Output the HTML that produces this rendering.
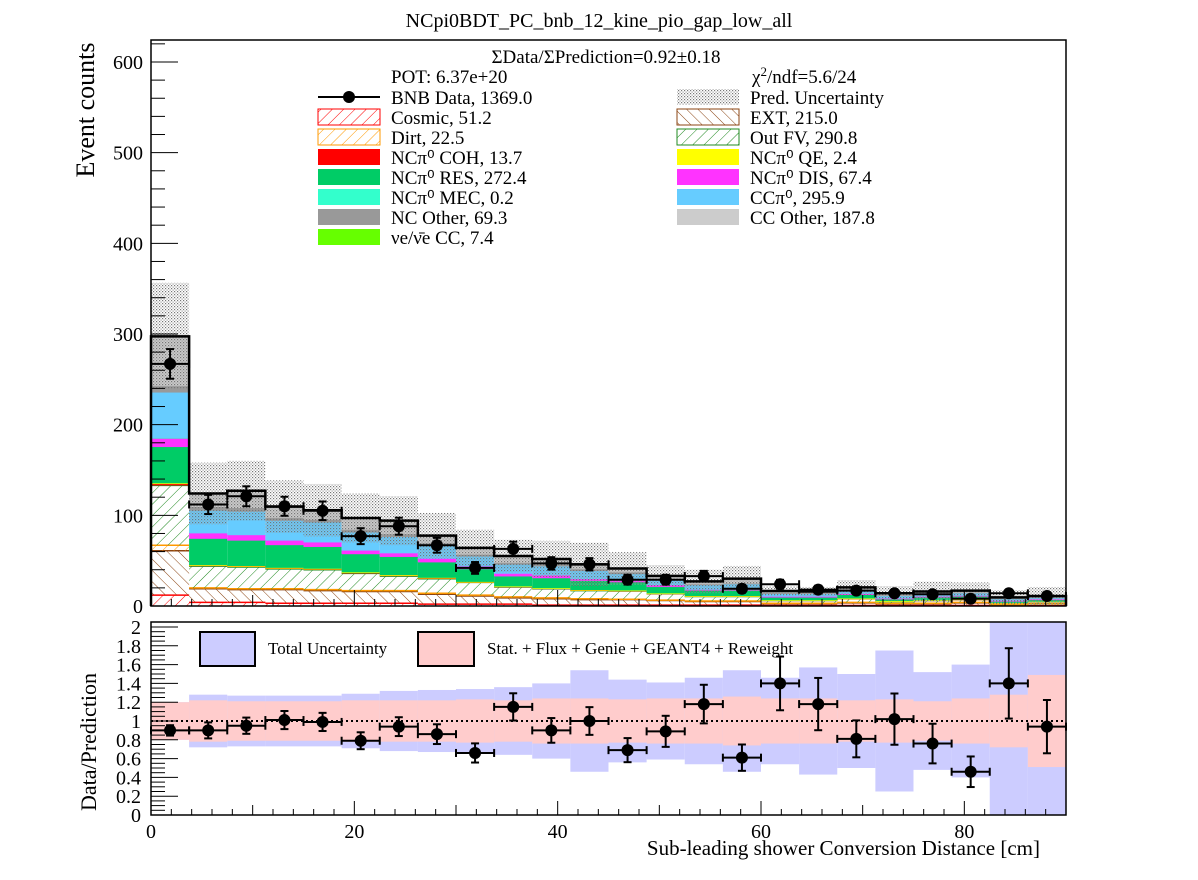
<!DOCTYPE html>
<html><head><meta charset="utf-8"><style>
body{margin:0;background:#fff;}
svg text{font-family:"Liberation Serif",serif;fill:#000;}
</style></head><body>
<svg id="c" width="1198" height="875" xmlns="http://www.w3.org/2000/svg">
<defs>
<pattern id="hCos" patternUnits="userSpaceOnUse" width="8" height="8" patternTransform="rotate(45)"><line x1="0" y1="0" x2="0" y2="8" stroke="#ff0000" stroke-width="1"/></pattern>
<pattern id="hExt" patternUnits="userSpaceOnUse" width="8" height="8" patternTransform="rotate(-45)"><line x1="0" y1="0" x2="0" y2="8" stroke="#8b4513" stroke-width="1"/></pattern>
<pattern id="hDirt" patternUnits="userSpaceOnUse" width="8" height="8" patternTransform="rotate(45)"><line x1="0" y1="0" x2="0" y2="8" stroke="#ff9900" stroke-width="1"/></pattern>
<pattern id="hOut" patternUnits="userSpaceOnUse" width="8" height="8" patternTransform="rotate(45)"><line x1="0" y1="0" x2="0" y2="8" stroke="#228b22" stroke-width="1"/></pattern>
<pattern id="dots" patternUnits="userSpaceOnUse" width="3" height="3"><rect x="0" y="0" width="1.2" height="1.2" fill="#777"/><rect x="1.5" y="1.5" width="1.2" height="1.2" fill="#999"/></pattern>
</defs>
<text x="599" y="27" text-anchor="middle" font-size="20">NCpi0BDT_PC_bnb_12_kine_pio_gap_low_all</text>
<g id="gtop"></g>
<g id="gbot"></g>
<rect x="151" y="40" width="915" height="566" fill="none" stroke="#000" stroke-width="1.5"/>
<rect x="151" y="622" width="915" height="193" fill="none" stroke="#000" stroke-width="1.5"/>
<text transform="translate(94,110) rotate(-90)" text-anchor="middle" font-size="26">Event counts</text>
<text transform="translate(96,742) rotate(-90)" text-anchor="middle" font-size="22">Data/Prediction</text>
<text x="1040" y="855" text-anchor="end" font-size="21">Sub-leading shower Conversion Distance [cm]</text>
<g font-size="19">
<text x="606" y="63" text-anchor="middle">ΣData/ΣPrediction=0.92±0.18</text>
<text x="391" y="83">POT: 6.37e+20</text>
<text x="752" y="83">χ<tspan dy="-7" font-size="13">2</tspan><tspan dy="7">/ndf=5.6/24</tspan></text>
</g>
<g id="leg"></g>
</svg>
<script>
const categoriesCm = [0,3.75,7.5,11.25,15,18.75,22.5,26.25,30,33.75,37.5,41.25,45,48.75,52.5,56.25,60,63.75,67.5,71.25,75,78.75,82.5,86.25,90];
const cosmic = [12,4,4,3,3,3,3,2,2,2,1,1,1,1,1,1,0.5,0.5,0.5,0.5,0.5,0.5,0.3,0.3];
const ext = [49,15,14,15,14,13,13,11,9,7,7,6,6,5,4,4,2,2,3,2,2,3,1,2];
const dirt = [6,1,1,1,1,1,1,1,1,1,1,1,0.5,0.5,0.5,0.5,0.5,0.5,0.5,0.5,0.5,0.5,0.3,0.3];
const outfv = [66,24,24,22,22,19,16,16,14,11,10,9,9,7,5,5,3,3,4,2,3,3,1.5,2];
const coh = [2,1,1,1,1,1,1,1,0.5,0.5,0.5,0.5,0.5,0.3,0.3,0.3,0.2,0.2,0.2,0.2,0.2,0.2,0.1,0.1];
const qe = [0.3,0.1,0.1,0.1,0.1,0.1,0.1,0.1,0.1,0.1,0.1,0.1,0.1,0.1,0.1,0.1,0.1,0.1,0.1,0.1,0.1,0.1,0.1,0.1];
const res = [40,29,28,25,24,20,20,17,14,11,11,10,9,7,6,6,3,3,4,2,3,3,2,2];
const dis = [10,6,6,5,5,4,4,4,3,3,3,2,2,2,1,1,1,1,1,1,1,1,0.5,0.5];
const mec = [0.1,0,0,0,0,0,0,0,0,0,0,0,0,0,0,0,0,0,0,0,0,0,0,0];
const ccpi0 = [50,25,26,22,22,20,18,14,11,10,10,9,7,6,5,6,3,3,4,3,3,3,2,2];
const ncother = [7,4,4,3,3,3,3,3,2,2,2,2,2,1,1,1,1,1,1,0.5,0.5,0.5,0.5,0.5];
const ccother = [54,15,18,12,10,12,14,8,7,7,6,5,4,3,3,5,2,1.5,2,2,2,2,1,1];
const nue = [1,0,1,0.5,0.5,1,1,0.5,0.5,0.5,0.3,0.3,0.3,0.3,0.3,0.3,0.2,0.2,0.2,0.2,0.2,0.2,0.2,0.2];
const predErr = [59,34,33,29,29,27,27,25,20,18,20,24,18,12,13,14,5,5,8,8,11,9,8,10];
const dataVals = [267,112,121,110,105,77,88,67,42,63,47,46,29,29,33,19,24,18,17,14,13,8,14,11];
const ratioVals = [0.90,0.90,0.95,1.01,0.99,0.79,0.94,0.86,0.66,1.15,0.90,1.00,0.69,0.89,1.18,0.61,1.40,1.18,0.81,1.02,0.76,0.46,1.40,0.94];
const totalUncHalf = [0.20,0.28,0.27,0.27,0.27,0.29,0.32,0.33,0.34,0.36,0.40,0.54,0.44,0.41,0.46,0.54,0.46,0.57,0.50,0.75,0.52,0.60,1.10,1.10];
const statUncHalf = [0.20,0.22,0.21,0.21,0.21,0.22,0.22,0.22,0.23,0.22,0.24,0.24,0.23,0.24,0.24,0.26,0.24,0.24,0.22,0.23,0.21,0.24,0.28,0.49];
const yTicks = [0,100,200,300,400,500,600];
const rTicks = [0,0.2,0.4,0.6,0.8,1,1.2,1.4,1.6,1.8,2];
const xTicks = [0,20,40,60,80];

const NS="http://www.w3.org/2000/svg";
const X=v=>151+v*915/90, Y=v=>606-v*0.9067, RY=r=>Math.max(622,Math.min(815,815-r*94));
function mk(p,t,a){const e=document.createElementNS(NS,t);for(const k in a)e.setAttribute(k,a[k]);p.appendChild(e);return e;}
const gTop=document.getElementById('gtop'), gBot=document.getElementById('gbot'), leg=document.getElementById('leg');
const comps=[
 {n:'cosmic',d:cosmic,f:'url(#hCos)',s:'#ff0000'},
 {n:'ext',d:ext,f:'url(#hExt)',s:'#8b4513'},
 {n:'dirt',d:dirt,f:'url(#hDirt)',s:'#ff9900'},
 {n:'outfv',d:outfv,f:'url(#hOut)',s:'#228b22'},
 {n:'coh',d:coh,f:'#ff0000',s:'#ff0000'},
 {n:'qe',d:qe,f:'#ffff00',s:'#ffff00'},
 {n:'res',d:res,f:'#00cc66',s:'#00cc66'},
 {n:'dis',d:dis,f:'#ff33ff',s:'#ff33ff'},
 {n:'mec',d:mec,f:'#33ffcc',s:'#33ffcc'},
 {n:'ccpi0',d:ccpi0,f:'#66ccff',s:'#66ccff'},
 {n:'ncother',d:ncother,f:'#999999',s:'#999999'},
 {n:'ccother',d:ccother,f:'#cccccc',s:'#cccccc'},
 {n:'nue',d:nue,f:'#66ff00',s:'#66ff00'}];
const nb=dataVals.length, totals=[];
for(let i=0;i<nb;i++){
 const x0=X(categoriesCm[i]), x1=X(categoriesCm[i+1]); let cum=0;
 for(const c of comps){const v=c.d[i]; if(v<=0){continue;}
  const r=mk(gTop,'rect',{x:x0,y:Y(cum+v),width:x1-x0,height:Y(cum)-Y(cum+v),fill:c.f});
  
  
  const l=mk(gTop,'line',{x1:x0,x2:x1,y1:Y(cum+v),y2:Y(cum+v),stroke:c.s,'stroke-width':1.5});
  
  
  cum+=v;}
 totals.push(cum);
}
for(let i=0;i<nb;i++){
 const x0=X(categoriesCm[i]), x1=X(categoriesCm[i+1]);
 const u=mk(gTop,'rect',{x:x0,y:Y(totals[i]+predErr[i]),width:x1-x0,height:Y(Math.max(0,totals[i]-predErr[i]))-Y(totals[i]+predErr[i]),fill:'url(#dots)'});
 
 
}
let d='M'+X(0)+' '+Y(0);
for(let i=0;i<nb;i++){d+=' L'+X(categoriesCm[i])+' '+Y(totals[i])+' L'+X(categoriesCm[i+1])+' '+Y(totals[i]);}
d+=' L'+X(90)+' '+Y(0);
const ol=mk(gTop,'path',{d:d,fill:'none',stroke:'#000','stroke-width':2.5});


for(let i=0;i<nb;i++){
 const xc=X((categoriesCm[i]+categoriesCm[i+1])/2), x0=X(categoriesCm[i]), x1=X(categoriesCm[i+1]);
 const v=dataVals[i], e=Math.sqrt(v);
 const g=mk(gTop,'g',{stroke:'#000','stroke-width':2});
 
 
 mk(g,'line',{x1:x0,x2:x1,y1:Y(v),y2:Y(v)});
 mk(g,'line',{x1:xc,x2:xc,y1:Y(v+e),y2:Y(v-e)});
 mk(g,'line',{x1:xc-4,x2:xc+4,y1:Y(v+e),y2:Y(v+e)});
 mk(g,'line',{x1:xc-4,x2:xc+4,y1:Y(v-e),y2:Y(v-e)});
 mk(g,'line',{x1:x0,x2:x0,y1:Y(v)-4,y2:Y(v)+4});
 mk(g,'line',{x1:x1,x2:x1,y1:Y(v)-4,y2:Y(v)+4});
 mk(g,'circle',{cx:xc,cy:Y(v),r:6,fill:'#000',stroke:'none'});
}
for(let v=0;v<=620;v+=20){const maj=v%100===0;mk(gTop,'line',{x1:151,x2:151+(maj?27:14),y1:Y(v),y2:Y(v),stroke:'#000','stroke-width':1});}
yTicks.forEach(v=>{const t=mk(gTop,'text',{x:143,y:Y(v)+7,'text-anchor':'end','font-size':20});t.textContent=v;
 
 });
for(let v=0;v<=90;v+=2){const L=v%20===0?16:(v%10===0?11:7);mk(gTop,'line',{x1:X(v),x2:X(v),y1:606,y2:606-L,stroke:'#000','stroke-width':1});}
const legItems=[
 [318,97,'data','BNB Data, 1369.0'],[677,97,'url(#dots)','Pred. Uncertainty'],
 [318,117,'url(#hCos)','Cosmic, 51.2','#ff0000'],[677,117,'url(#hExt)','EXT, 215.0','#8b4513'],
 [318,137,'url(#hDirt)','Dirt, 22.5','#ff9900'],[677,137,'url(#hOut)','Out FV, 290.8','#228b22'],
 [318,157,'#ff0000','NCπ⁰ COH,  13.7'],[677,157,'#ffff00','NCπ⁰ QE,  2.4'],
 [318,177,'#00cc66','NCπ⁰ RES,  272.4'],[677,177,'#ff33ff','NCπ⁰ DIS,  67.4'],
 [318,197,'#33ffcc','NCπ⁰ MEC,  0.2'],[677,197,'#66ccff','CCπ⁰, 295.9'],
 [318,217,'#999999','NC Other, 69.3'],[677,217,'#cccccc','CC Other, 187.8'],
 [318,237,'#66ff00','νe/ν̄e CC, 7.4']];
legItems.forEach(it=>{const [x,y,f,txt,s]=it;
 const g=mk(leg,'g',{});
 
 
 if(f==='data'){mk(g,'line',{x1:x,x2:x+62,y1:y,y2:y,stroke:'#000','stroke-width':2});mk(g,'circle',{cx:x+31,cy:y,r:6,fill:'#000'});}
 else mk(g,'rect',{x:x,y:y-8,width:62,height:16,fill:f,stroke:s||'none','stroke-width':1});
 const t=mk(g,'text',{x:x+73,y:y+7,'font-size':19});t.textContent=txt;});
for(let i=0;i<nb;i++){
 const x0=X(categoriesCm[i]), x1=X(categoriesCm[i+1]);
 const b=mk(gBot,'rect',{x:x0,y:RY(1+totalUncHalf[i]),width:x1-x0,height:RY(1-totalUncHalf[i])-RY(1+totalUncHalf[i]),fill:'#ccccff'});
 
 
}
for(let i=0;i<nb;i++){
 const x0=X(categoriesCm[i]), x1=X(categoriesCm[i+1]);
 const b=mk(gBot,'rect',{x:x0,y:RY(1+statUncHalf[i]),width:x1-x0,height:RY(1-statUncHalf[i])-RY(1+statUncHalf[i]),fill:'#ffcccc'});
 
 
}
const unity=mk(gBot,'line',{x1:151,x2:1066,y1:RY(1),y2:RY(1),stroke:'#000','stroke-width':2,'stroke-dasharray':'2,3'});


for(let i=0;i<nb;i++){
 const xc=X((categoriesCm[i]+categoriesCm[i+1])/2), x0=X(categoriesCm[i]), x1=X(categoriesCm[i+1]);
 const r=ratioVals[i], e=r/Math.sqrt(dataVals[i]);
 const g=mk(gBot,'g',{stroke:'#000','stroke-width':2});
 
 
 mk(g,'line',{x1:x0,x2:x1,y1:RY(r),y2:RY(r)});
 mk(g,'line',{x1:xc,x2:xc,y1:RY(r+e),y2:RY(r-e)});
 mk(g,'line',{x1:xc-4,x2:xc+4,y1:RY(r+e),y2:RY(r+e)});
 mk(g,'line',{x1:xc-4,x2:xc+4,y1:RY(r-e),y2:RY(r-e)});
 mk(g,'line',{x1:x0,x2:x0,y1:RY(r)-4,y2:RY(r)+4});
 mk(g,'line',{x1:x1,x2:x1,y1:RY(r)-4,y2:RY(r)+4});
 mk(g,'circle',{cx:xc,cy:RY(r),r:6,fill:'#000',stroke:'none'});
}
for(let k=0;k<=40;k++){const v=k*0.05;const maj=k%4===0;mk(gBot,'line',{x1:151,x2:151+(maj?27:14),y1:RY(v),y2:RY(v),stroke:'#000','stroke-width':1});}
rTicks.forEach(v=>{const t=mk(gBot,'text',{x:141,y:RY(v)+7,'text-anchor':'end','font-size':20});t.textContent=String(+v.toFixed(1));
 
 });
for(let v=0;v<=90;v+=2){const L=v%20===0?14:(v%10===0?10:6);mk(gBot,'line',{x1:X(v),x2:X(v),y1:815,y2:815-L,stroke:'#000','stroke-width':1});}
xTicks.forEach(v=>{const t=mk(gBot,'text',{x:X(v),y:838,'text-anchor':'middle','font-size':20});t.textContent=v;
 
 });
const rl=mk(gBot,'g',{});


mk(rl,'rect',{x:200,y:632,width:55,height:34,fill:'#ccccff',stroke:'#000','stroke-width':2});
let tt=mk(rl,'text',{x:268,y:654,'font-size':17});tt.textContent='Total Uncertainty';
mk(rl,'rect',{x:418,y:632,width:56,height:34,fill:'#ffcccc',stroke:'#000','stroke-width':2});
tt=mk(rl,'text',{x:487,y:654,'font-size':17});tt.textContent='Stat. + Flux + Genie + GEANT4 + Reweight';
</script>
</body></html>
